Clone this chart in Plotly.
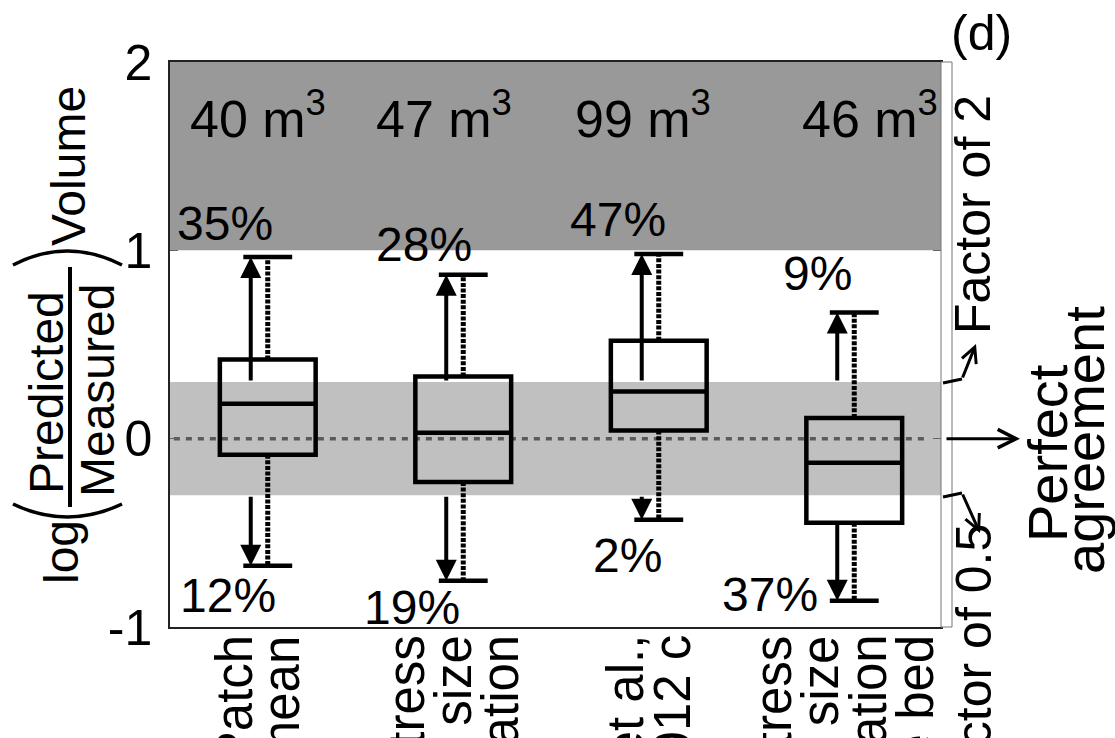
import plotly.graph_objects as go

# ---------------- data ----------------
categories = ["Patch mean", "Stress size calibration", "Recking et al., 2012 c",
              "Stress size calibration same bed"]
tick_lines = [["Patch", "mean"],
              ["Stress", "size", "calibration"],
              ["Recking et al.,", "2012 c"],
              ["Stress", "size", "calibration", "same bed"]]
x_pos = [1, 2, 3, 4]
q1 = [-0.085, -0.23, 0.043, -0.447]
median = [0.186, 0.032, 0.25, -0.128]
q3 = [0.42, 0.33, 0.52, 0.11]
upper_whisker = [0.965, 0.87, 0.98, 0.67]
lower_whisker = [-0.675, -0.755, -0.43, -0.86]
pct_over = ["35%", "28%", "47%", "9%"]
pct_under = ["12%", "19%", "2%", "37%"]
volumes = [40, 47, 99, 46]
y_ticks = [-1, 0, 1, 2]
y_ticktext = ["-1", "0", "1", "2"]
factor2 = 0.30103  # log10(2)

# ---------------- layout helpers ----------------
W, H = 1115, 738
L, R, T, B = 170, 941, 62, 627
PXU = 195.5  # pixels per x unit
XR = [0.5, 0.5 + (R - L) / PXU]


def px(xp):
    return (xp - L) / (R - L)


def py(yp):
    return (B - yp) / (B - T)


FONT = "Liberation Sans, Arial, sans-serif"
fig = go.Figure()

# background bands
fig.add_shape(type="rect", xref="paper", yref="y", x0=0, x1=1, y0=1, y1=2,
              fillcolor="#999999", line_width=0, layer="below")
fig.add_shape(type="rect", xref="paper", yref="y", x0=0, x1=1, y0=-factor2, y1=factor2,
              fillcolor="#c0c0c0", line_width=0, layer="below")
fig.add_shape(type="line", xref="paper", yref="y", x0=0.005, x1=0.985, y0=0, y1=0,
              line=dict(color="#5a5a5a", width=3.5, dash="6px,6px"), layer="below")
# thin strip at right
fig.add_shape(type="rect", xref="paper", yref="paper", x0=1, x1=px(952), y0=0, y1=1,
              fillcolor="white", line=dict(color="#777777", width=1))

# boxes
fig.add_trace(go.Box(x=x_pos, q1=q1, median=median, q3=q3, lowerfence=q1, upperfence=q3,
                     width=0.49, whiskerwidth=0, line=dict(color="black", width=4.5),
                     fillcolor="rgba(0,0,0,0)", boxpoints=False, showlegend=False,
                     hoverinfo="skip"))

# whiskers (dotted) and caps
cap_half = 0.125
for i, c in enumerate(x_pos):
    fig.add_trace(go.Scatter(x=[c, c, None, c, c],
                             y=[q3[i], upper_whisker[i], None, q1[i], lower_whisker[i]],
                             mode="lines", line=dict(color="black", width=5, dash="4px,1.6px"),
                             showlegend=False, hoverinfo="skip"))
    fig.add_trace(go.Scatter(x=[c - cap_half, c + cap_half, None, c - cap_half, c + cap_half],
                             y=[upper_whisker[i], upper_whisker[i], None,
                                lower_whisker[i], lower_whisker[i]],
                             mode="lines", line=dict(color="black", width=4.5),
                             showlegend=False, hoverinfo="skip"))

annotations = []
arrow_dx = -0.087
for i, c in enumerate(x_pos):
    xa = c + arrow_dx
    annotations.append(dict(x=xa, y=upper_whisker[i], ax=xa, ay=factor2, xref="x", yref="y",
                            axref="x", ayref="y", text="", showarrow=True, arrowhead=2,
                            arrowwidth=4, arrowsize=1.05, arrowcolor="black"))
    tail = min(-factor2, q1[i])
    annotations.append(dict(x=xa, y=lower_whisker[i], ax=xa, ay=tail, xref="x", yref="y",
                            axref="x", ayref="y", text="", showarrow=True, arrowhead=2,
                            arrowwidth=4, arrowsize=1.05, arrowcolor="black"))

# percentage labels (label placement offsets)
over_dx = [-0.22, -0.20, -0.21, -0.19]
over_dy = [0.18, 0.16, 0.185, 0.205]
under_dx = [-0.205, -0.26, -0.16, -0.43]
under_dy = [-0.16, -0.14, -0.19, 0.035]
for i, c in enumerate(x_pos):
    annotations.append(dict(x=c + over_dx[i], y=upper_whisker[i] + over_dy[i], text=pct_over[i],
                            xref="x", yref="y", showarrow=False, xanchor="center", yanchor="middle",
                            font=dict(family=FONT, size=48, color="black")))
    annotations.append(dict(x=c + under_dx[i], y=lower_whisker[i] + under_dy[i], text=pct_under[i],
                            xref="x", yref="y", showarrow=False, xanchor="center", yanchor="middle",
                            font=dict(family=FONT, size=48, color="black")))

# volume labels
vol_dx = [-0.05, -0.10, -0.08, 0.08]
for i, c in enumerate(x_pos):
    annotations.append(dict(x=c + vol_dx[i], y=1.72, text=f"{volumes[i]} m<sup>3</sup>",
                            xref="x", yref="y", showarrow=False, xanchor="center", yanchor="middle",
                            font=dict(family=FONT, size=52, color="black")))

# x category labels (rotated, one annotation per line)
line_sp = 47 / PXU
for i, c in enumerate(x_pos):
    lines = tick_lines[i]
    n = len(lines)
    for j, t in enumerate(lines):
        xc = c - 10 / PXU + (j - (n - 1) / 2) * line_sp
        annotations.append(dict(x=xc, y=py(633), text=t, xref="x", yref="paper",
                                textangle=-90, xanchor="center", yanchor="top",
                                showarrow=False, font=dict(family=FONT, size=51, color="black")))

# y-axis title built from parts
ytitle_parts = [("Volume", 68, 166), ("Predicted", 46, 392), ("Measured", 97, 391), ("log", 61, 552)]
for t, xx, yy in ytitle_parts:
    annotations.append(dict(x=px(xx), y=py(yy), text=t, xref="paper", yref="paper",
                            textangle=-90, xanchor="center", yanchor="middle", showarrow=False,
                            font=dict(family=FONT, size=48, color="black")))
fig.add_shape(type="line", xref="paper", yref="paper", x0=px(70), x1=px(70), y0=py(267), y1=py(507),
              line=dict(color="black", width=4))
fig.add_shape(type="path", xref="paper", yref="paper",
              path=f"M {px(13)},{py(265)} Q {px(67)},{py(237)} {px(122)},{py(265)}",
              line=dict(color="black", width=3.5))
fig.add_shape(type="path", xref="paper", yref="paper",
              path=f"M {px(13)},{py(504)} Q {px(67)},{py(530)} {px(122)},{py(504)}",
              line=dict(color="black", width=3.5))

# right side annotations
def side_text(text, xx, yy, size, angle=-90, yanchor="middle"):
    return dict(x=px(xx), y=py(yy), text=text, xref="paper", yref="paper", textangle=angle,
                xanchor="center", yanchor=yanchor, showarrow=False,
                font=dict(family=FONT, size=size, color="black"))


annotations.append(side_text("(d)", 981, 33, 50, angle=0))
annotations.append(side_text("Factor of 2", 973, 215, 50))
annotations.append(side_text("Factor of 0.5", 973, 522, 50, yanchor="top"))
annotations.append(side_text("Perfect", 1048, 453, 56))
annotations.append(side_text("agreement", 1084, 440, 56))

# arrows to right-side labels
annotations.append(dict(x=px(1020), y=0, xref="paper", yref="y", ax=-75, ay=0, text="",
                        showarrow=True, arrowhead=5, arrowwidth=3, arrowsize=1.2, arrowcolor="black"))
fig.add_shape(type="line", xref="paper", yref="paper", x0=px(943), y0=py(383), x1=px(962), y1=py(379),
              line=dict(color="black", width=3))
annotations.append(dict(x=px(976), y=py(344), xref="paper", yref="paper", ax=-14, ay=35, text="",
                        showarrow=True, arrowhead=5, arrowwidth=3, arrowsize=1.0, arrowcolor="black"))
fig.add_shape(type="line", xref="paper", yref="paper", x0=px(943), y0=py(497), x1=px(962), y1=py(493),
              line=dict(color="black", width=3))
annotations.append(dict(x=px(980), y=py(533), xref="paper", yref="paper", ax=-18, ay=-40, text="",
                        showarrow=True, arrowhead=5, arrowwidth=3, arrowsize=1.0, arrowcolor="black"))

fig.update_layout(
    width=W, height=H, margin=dict(l=L, r=W - R, t=T, b=H - B, autoexpand=False),
    paper_bgcolor="white", plot_bgcolor="white", showlegend=False,
    annotations=annotations,
    xaxis=dict(range=XR, showline=True, mirror=True, linecolor="#222222", linewidth=1.5,
               showgrid=False, zeroline=False, showticklabels=False, ticks="", fixedrange=True),
    yaxis=dict(range=[-1, 2], tickvals=y_ticks, ticktext=y_ticktext, showline=True, mirror="ticks",
               linecolor="#222222", linewidth=1.5, ticks="inside", ticklen=8, tickcolor="#666666",
               tickwidth=1, showgrid=False, zeroline=False, ticklabelstandoff=6,
               tickfont=dict(family=FONT, size=50, color="black")),
)
fig.write_html("out.html")
